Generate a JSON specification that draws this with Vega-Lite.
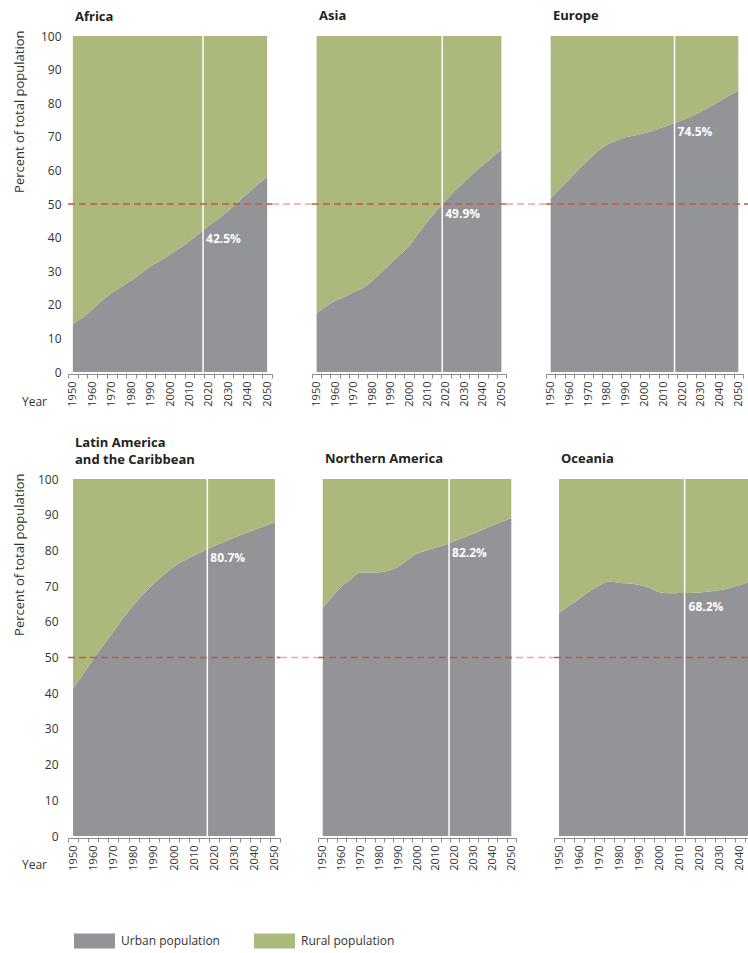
{
  "$schema": "https://vega.github.io/schema/vega-lite/v6.json",
  "padding": {"left": 13, "top": 10, "right": 0, "bottom": 0},
  "background": "white",
  "datasets": {
    "urban": [
      {"region": "Africa", "year": 1950, "urban": 14.3}, {"region": "Africa", "year": 1955, "urban": 16.2}, {"region": "Africa", "year": 1960, "urban": 18.6}, {"region": "Africa", "year": 1965, "urban": 21.2}, {"region": "Africa", "year": 1970, "urban": 23.6}, {"region": "Africa", "year": 1975, "urban": 25.4}, {"region": "Africa", "year": 1980, "urban": 27.2}, {"region": "Africa", "year": 1985, "urban": 29.3}, {"region": "Africa", "year": 1990, "urban": 31.5}, {"region": "Africa", "year": 1995, "urban": 33.1}, {"region": "Africa", "year": 2000, "urban": 35.0}, {"region": "Africa", "year": 2005, "urban": 36.8}, {"region": "Africa", "year": 2010, "urban": 38.9}, {"region": "Africa", "year": 2015, "urban": 41.2}, {"region": "Africa", "year": 2020, "urban": 43.5}, {"region": "Africa", "year": 2025, "urban": 45.7}, {"region": "Africa", "year": 2030, "urban": 48.0}, {"region": "Africa", "year": 2035, "urban": 50.6}, {"region": "Africa", "year": 2040, "urban": 53.2}, {"region": "Africa", "year": 2045, "urban": 55.7}, {"region": "Africa", "year": 2050, "urban": 58.0},
      {"region": "Asia", "year": 1950, "urban": 17.5}, {"region": "Asia", "year": 1955, "urban": 19.5}, {"region": "Asia", "year": 1960, "urban": 21.2}, {"region": "Asia", "year": 1965, "urban": 22.3}, {"region": "Asia", "year": 1970, "urban": 23.7}, {"region": "Asia", "year": 1975, "urban": 25.0}, {"region": "Asia", "year": 1980, "urban": 27.1}, {"region": "Asia", "year": 1985, "urban": 29.6}, {"region": "Asia", "year": 1990, "urban": 32.3}, {"region": "Asia", "year": 1995, "urban": 34.8}, {"region": "Asia", "year": 2000, "urban": 37.5}, {"region": "Asia", "year": 2005, "urban": 41.2}, {"region": "Asia", "year": 2010, "urban": 44.8}, {"region": "Asia", "year": 2015, "urban": 48.0}, {"region": "Asia", "year": 2020, "urban": 51.1}, {"region": "Asia", "year": 2025, "urban": 54.0}, {"region": "Asia", "year": 2030, "urban": 56.7}, {"region": "Asia", "year": 2035, "urban": 59.2}, {"region": "Asia", "year": 2040, "urban": 61.5}, {"region": "Asia", "year": 2045, "urban": 63.9}, {"region": "Asia", "year": 2050, "urban": 66.2},
      {"region": "Europe", "year": 1950, "urban": 51.7}, {"region": "Europe", "year": 1955, "urban": 54.6}, {"region": "Europe", "year": 1960, "urban": 57.4}, {"region": "Europe", "year": 1965, "urban": 60.4}, {"region": "Europe", "year": 1970, "urban": 63.1}, {"region": "Europe", "year": 1975, "urban": 65.6}, {"region": "Europe", "year": 1980, "urban": 67.6}, {"region": "Europe", "year": 1985, "urban": 68.9}, {"region": "Europe", "year": 1990, "urban": 69.9}, {"region": "Europe", "year": 1995, "urban": 70.4}, {"region": "Europe", "year": 2000, "urban": 71.1}, {"region": "Europe", "year": 2005, "urban": 71.9}, {"region": "Europe", "year": 2010, "urban": 72.9}, {"region": "Europe", "year": 2015, "urban": 73.9}, {"region": "Europe", "year": 2020, "urban": 74.9}, {"region": "Europe", "year": 2025, "urban": 76.1}, {"region": "Europe", "year": 2030, "urban": 77.5}, {"region": "Europe", "year": 2035, "urban": 79.0}, {"region": "Europe", "year": 2040, "urban": 80.6}, {"region": "Europe", "year": 2045, "urban": 82.2}, {"region": "Europe", "year": 2050, "urban": 83.7},
      {"region": "LAC", "year": 1950, "urban": 41.3}, {"region": "LAC", "year": 1955, "urban": 45.3}, {"region": "LAC", "year": 1960, "urban": 49.5}, {"region": "LAC", "year": 1965, "urban": 53.4}, {"region": "LAC", "year": 1970, "urban": 57.3}, {"region": "LAC", "year": 1975, "urban": 61.1}, {"region": "LAC", "year": 1980, "urban": 64.7}, {"region": "LAC", "year": 1985, "urban": 67.9}, {"region": "LAC", "year": 1990, "urban": 70.7}, {"region": "LAC", "year": 1995, "urban": 73.2}, {"region": "LAC", "year": 2000, "urban": 75.5}, {"region": "LAC", "year": 2005, "urban": 77.1}, {"region": "LAC", "year": 2010, "urban": 78.6}, {"region": "LAC", "year": 2015, "urban": 79.9}, {"region": "LAC", "year": 2020, "urban": 81.2}, {"region": "LAC", "year": 2025, "urban": 82.4}, {"region": "LAC", "year": 2030, "urban": 83.6}, {"region": "LAC", "year": 2035, "urban": 84.7}, {"region": "LAC", "year": 2040, "urban": 85.8}, {"region": "LAC", "year": 2045, "urban": 86.8}, {"region": "LAC", "year": 2050, "urban": 87.8},
      {"region": "NA", "year": 1950, "urban": 63.9}, {"region": "NA", "year": 1955, "urban": 67.0}, {"region": "NA", "year": 1960, "urban": 69.9}, {"region": "NA", "year": 1965, "urban": 71.9}, {"region": "NA", "year": 1970, "urban": 73.8}, {"region": "NA", "year": 1975, "urban": 73.8}, {"region": "NA", "year": 1980, "urban": 73.9}, {"region": "NA", "year": 1985, "urban": 74.4}, {"region": "NA", "year": 1990, "urban": 75.4}, {"region": "NA", "year": 1995, "urban": 77.3}, {"region": "NA", "year": 2000, "urban": 79.1}, {"region": "NA", "year": 2005, "urban": 80.0}, {"region": "NA", "year": 2010, "urban": 80.8}, {"region": "NA", "year": 2015, "urban": 81.6}, {"region": "NA", "year": 2020, "urban": 82.6}, {"region": "NA", "year": 2025, "urban": 83.6}, {"region": "NA", "year": 2030, "urban": 84.7}, {"region": "NA", "year": 2035, "urban": 85.8}, {"region": "NA", "year": 2040, "urban": 87.0}, {"region": "NA", "year": 2045, "urban": 88.0}, {"region": "NA", "year": 2050, "urban": 89.0},
      {"region": "Oceania", "year": 1950, "urban": 62.5}, {"region": "Oceania", "year": 1955, "urban": 64.5}, {"region": "Oceania", "year": 1960, "urban": 66.4}, {"region": "Oceania", "year": 1965, "urban": 68.5}, {"region": "Oceania", "year": 1970, "urban": 70.2}, {"region": "Oceania", "year": 1975, "urban": 71.3}, {"region": "Oceania", "year": 1980, "urban": 70.9}, {"region": "Oceania", "year": 1985, "urban": 70.7}, {"region": "Oceania", "year": 1990, "urban": 70.3}, {"region": "Oceania", "year": 1995, "urban": 69.5}, {"region": "Oceania", "year": 2000, "urban": 68.3}, {"region": "Oceania", "year": 2005, "urban": 68.0}, {"region": "Oceania", "year": 2010, "urban": 68.1}, {"region": "Oceania", "year": 2015, "urban": 68.1}, {"region": "Oceania", "year": 2020, "urban": 68.2}, {"region": "Oceania", "year": 2025, "urban": 68.5}, {"region": "Oceania", "year": 2030, "urban": 68.9}, {"region": "Oceania", "year": 2035, "urban": 69.5}, {"region": "Oceania", "year": 2040, "urban": 70.3}, {"region": "Oceania", "year": 2045, "urban": 71.3}, {"region": "Oceania", "year": 2050, "urban": 72.5}
    ],
    "marker": [
      {"region": "Africa", "year": 2017, "urban": 42.5, "label": "42.5%"},
      {"region": "Asia", "year": 2018, "urban": 49.9, "label": "49.9%"},
      {"region": "Europe", "year": 2016, "urban": 74.5, "label": "74.5%"},
      {"region": "LAC", "year": 2016.5, "urban": 80.7, "label": "80.7%"},
      {"region": "NA", "year": 2017, "urban": 82.2, "label": "82.2%"},
      {"region": "Oceania", "year": 2012.5, "urban": 68.2, "label": "68.2%"}
    ],
    "refline": [
      {"region": "Africa", "year": 1947.5, "year2": 2052.5, "urban": 50, "part": "in"}, {"region": "Africa", "year": 2052.5, "year2": 2073, "urban": 50, "part": "gap"},
      {"region": "Asia", "year": 1947.5, "year2": 2052.5, "urban": 50, "part": "in"}, {"region": "Asia", "year": 2052.5, "year2": 2074, "urban": 50, "part": "gap"},
      {"region": "Europe", "year": 1947.5, "year2": 2060, "urban": 50, "part": "in"},
      {"region": "LAC", "year": 1947.5, "year2": 2052.5, "urban": 50, "part": "in"}, {"region": "LAC", "year": 2052.5, "year2": 2071, "urban": 50, "part": "gap"},
      {"region": "NA", "year": 1947.5, "year2": 2052.5, "urban": 50, "part": "in"}, {"region": "NA", "year": 2052.5, "year2": 2072.5, "urban": 50, "part": "gap"},
      {"region": "Oceania", "year": 1947.5, "year2": 2060, "urban": 50, "part": "in"}
    ]
  },
  "vconcat": [
    {
      "hconcat": [
        {
          "width": 204, "height": 336,
          "title": {"text": "Africa", "offset": 6},
          "encoding": {
            "x": {"field": "year", "type": "quantitative", "scale": {"domain": [1947.5, 2052.5], "nice": false, "zero": false},
              "axis": {"values": [1947.5,1950,1952.5,1955,1957.5,1960,1962.5,1965,1967.5,1970,1972.5,1975,1977.5,1980,1982.5,1985,1987.5,1990,1992.5,1995,1997.5,2000,2002.5,2005,2007.5,2010,2012.5,2015,2017.5,2020,2022.5,2025,2027.5,2030,2032.5,2035,2037.5,2040,2042.5,2045,2047.5,2050,2052.5],
                "format": "d", "labelExpr": "datum.value % 10 == 0 ? datum.label : ''", "labelAngle": -90, "labelFontSize": 11, "labelPadding": 3, "labelOverlap": false, "labelFlush": false, "labelBound": false,
                "tickSize": 4, "tickColor": "#8c8c8c", "tickOpacity": {"condition": {"test": "(datum.value - 1947.5) % 5 == 0", "value": 1}, "value": 0},
                "domainColor": "#8c8c8c", "offset": 2, "grid": false,
                "title": "Year", "titleFontSize": 12, "titleFontWeight": "normal", "titleAlign": "center", "titleBaseline": "middle", "titleX": -34, "titleY": 27}},
            "y": {"field": "urban", "type": "quantitative", "scale": {"domain": [0, 100], "nice": false},
              "axis": {"values": [0,10,20,30,40,50,60,70,80,90,100], "ticks": false, "domain": false, "grid": false, "labelFontSize": 12, "labelPadding": 7,
                "title": "Percent of total population", "titleFontSize": 13, "titleFontWeight": "normal", "titleAnchor": "end", "titleY": -6, "titlePadding": 14}}
          },
          "layer": [
            {"data": {"name": "urban"}, "transform": [{"filter": "datum.region == 'Africa'"}], "mark": {"type": "area", "interpolate": "monotone"},
              "encoding": {"color": {"datum": "Urban population", "type": "nominal", "scale": {"domain": ["Urban population", "Rural population"], "range": ["#939498", "#acb97c"]},
                "legend": {"orient": "bottom", "direction": "horizontal", "title": null, "padding": 6, "symbolType": "M-1,-0.366H1V0.366H-1Z", "symbolSize": 1681, "symbolStrokeWidth": 0, "labelFontSize": 12, "labelColor": "#333", "labelOffset": 6, "columnPadding": 34, "offset": 43}}}},
            {"data": {"name": "urban"}, "transform": [{"filter": "datum.region == 'Africa'"}], "mark": {"type": "area", "interpolate": "monotone"},
              "encoding": {"y2": {"datum": 100}, "color": {"datum": "Rural population", "type": "nominal"}}},
            {"data": {"name": "marker"}, "transform": [{"filter": "datum.region == 'Africa'"}], "mark": {"type": "rule", "color": "white", "strokeWidth": 1.5},
              "encoding": {"y": null}},
            {"data": {"name": "refline"}, "transform": [{"filter": "datum.region == 'Africa'"}], "mark": {"type": "rule", "strokeDash": [7, 4], "strokeWidth": 1.3, "clip": false},
              "encoding": {"x2": {"field": "year2"}, "stroke": {"condition": {"test": "datum.part == 'gap'", "value": "#eaa7a3"}, "value": "#c8553f"}}},
            {"data": {"name": "marker"}, "transform": [{"filter": "datum.region == 'Africa'"}], "mark": {"type": "text", "align": "left", "baseline": "middle", "dx": 3, "dy": 10, "fontWeight": "bold", "fontSize": 12, "color": "white"},
              "encoding": {"text": {"field": "label"}}}
          ]
        },
        {
          "width": 194, "height": 336,
          "title": {"text": "Asia"},
          "encoding": {
            "x": {"field": "year", "type": "quantitative", "scale": {"domain": [1947.5, 2052.5], "nice": false, "zero": false},
              "axis": {"values": [1947.5,1950,1952.5,1955,1957.5,1960,1962.5,1965,1967.5,1970,1972.5,1975,1977.5,1980,1982.5,1985,1987.5,1990,1992.5,1995,1997.5,2000,2002.5,2005,2007.5,2010,2012.5,2015,2017.5,2020,2022.5,2025,2027.5,2030,2032.5,2035,2037.5,2040,2042.5,2045,2047.5,2050,2052.5],
                "format": "d", "labelExpr": "datum.value % 10 == 0 ? datum.label : ''", "labelAngle": -90, "labelFontSize": 11, "labelPadding": 3, "labelOverlap": false, "labelFlush": false, "labelBound": false,
                "tickSize": 4, "tickColor": "#8c8c8c", "tickOpacity": {"condition": {"test": "(datum.value - 1947.5) % 5 == 0", "value": 1}, "value": 0},
                "domainColor": "#8c8c8c", "offset": 2, "grid": false, "title": null}},
            "y": {"field": "urban", "type": "quantitative", "scale": {"domain": [0, 100], "nice": false}, "axis": null}
          },
          "layer": [
            {"data": {"name": "urban"}, "transform": [{"filter": "datum.region == 'Asia'"}], "mark": {"type": "area", "interpolate": "monotone"},
              "encoding": {"color": {"datum": "Urban population", "type": "nominal"}}},
            {"data": {"name": "urban"}, "transform": [{"filter": "datum.region == 'Asia'"}], "mark": {"type": "area", "interpolate": "monotone"},
              "encoding": {"y2": {"datum": 100}, "color": {"datum": "Rural population", "type": "nominal"}}},
            {"data": {"name": "marker"}, "transform": [{"filter": "datum.region == 'Asia'"}], "mark": {"type": "rule", "color": "white", "strokeWidth": 1.5},
              "encoding": {"y": null}},
            {"data": {"name": "refline"}, "transform": [{"filter": "datum.region == 'Asia'"}], "mark": {"type": "rule", "strokeDash": [7, 4], "strokeWidth": 1.3, "clip": false},
              "encoding": {"x2": {"field": "year2"}, "stroke": {"condition": {"test": "datum.part == 'gap'", "value": "#eaa7a3"}, "value": "#c8553f"}}},
            {"data": {"name": "marker"}, "transform": [{"filter": "datum.region == 'Asia'"}], "mark": {"type": "text", "align": "left", "baseline": "middle", "dx": 3, "dy": 10, "fontWeight": "bold", "fontSize": 12, "color": "white"},
              "encoding": {"text": {"field": "label"}}}
          ]
        },
        {
          "width": 197, "height": 336,
          "title": {"text": "Europe"},
          "encoding": {
            "x": {"field": "year", "type": "quantitative", "scale": {"domain": [1947.5, 2052.5], "nice": false, "zero": false},
              "axis": {"values": [1947.5,1950,1952.5,1955,1957.5,1960,1962.5,1965,1967.5,1970,1972.5,1975,1977.5,1980,1982.5,1985,1987.5,1990,1992.5,1995,1997.5,2000,2002.5,2005,2007.5,2010,2012.5,2015,2017.5,2020,2022.5,2025,2027.5,2030,2032.5,2035,2037.5,2040,2042.5,2045,2047.5,2050,2052.5],
                "format": "d", "labelExpr": "datum.value % 10 == 0 ? datum.label : ''", "labelAngle": -90, "labelFontSize": 11, "labelPadding": 3, "labelOverlap": false, "labelFlush": false, "labelBound": false,
                "tickSize": 4, "tickColor": "#8c8c8c", "tickOpacity": {"condition": {"test": "(datum.value - 1947.5) % 5 == 0", "value": 1}, "value": 0},
                "domainColor": "#8c8c8c", "offset": 2, "grid": false, "title": null}},
            "y": {"field": "urban", "type": "quantitative", "scale": {"domain": [0, 100], "nice": false}, "axis": null}
          },
          "layer": [
            {"data": {"name": "urban"}, "transform": [{"filter": "datum.region == 'Europe'"}], "mark": {"type": "area", "interpolate": "monotone"},
              "encoding": {"color": {"datum": "Urban population", "type": "nominal"}}},
            {"data": {"name": "urban"}, "transform": [{"filter": "datum.region == 'Europe'"}], "mark": {"type": "area", "interpolate": "monotone"},
              "encoding": {"y2": {"datum": 100}, "color": {"datum": "Rural population", "type": "nominal"}}},
            {"data": {"name": "marker"}, "transform": [{"filter": "datum.region == 'Europe'"}], "mark": {"type": "rule", "color": "white", "strokeWidth": 1.5},
              "encoding": {"y": null}},
            {"data": {"name": "refline"}, "transform": [{"filter": "datum.region == 'Europe'"}], "mark": {"type": "rule", "strokeDash": [7, 4], "strokeWidth": 1.3, "clip": false},
              "encoding": {"x2": {"field": "year2"}, "stroke": {"condition": {"test": "datum.part == 'gap'", "value": "#eaa7a3"}, "value": "#c8553f"}}},
            {"data": {"name": "marker"}, "transform": [{"filter": "datum.region == 'Europe'"}], "mark": {"type": "text", "align": "left", "baseline": "middle", "dx": 3, "dy": 10, "fontWeight": "bold", "fontSize": 12, "color": "white"},
              "encoding": {"text": {"field": "label"}}}
          ]
        }
      ],
      "bounds": "flush",
      "spacing": 40
    },
    {
      "hconcat": [
        {
          "width": 212, "height": 357,
          "title": {"text": ["Latin America", "and the Caribbean"], "offset": 6},
          "encoding": {
            "x": {"field": "year", "type": "quantitative", "scale": {"domain": [1947.5, 2052.5], "nice": false, "zero": false},
              "axis": {"values": [1947.5,1950,1952.5,1955,1957.5,1960,1962.5,1965,1967.5,1970,1972.5,1975,1977.5,1980,1982.5,1985,1987.5,1990,1992.5,1995,1997.5,2000,2002.5,2005,2007.5,2010,2012.5,2015,2017.5,2020,2022.5,2025,2027.5,2030,2032.5,2035,2037.5,2040,2042.5,2045,2047.5,2050,2052.5],
                "format": "d", "labelExpr": "datum.value % 10 == 0 ? datum.label : ''", "labelAngle": -90, "labelFontSize": 11, "labelPadding": 3, "labelOverlap": false, "labelFlush": false, "labelBound": false,
                "tickSize": 4, "tickColor": "#8c8c8c", "tickOpacity": {"condition": {"test": "(datum.value - 1947.5) % 5 == 0", "value": 1}, "value": 0},
                "domainColor": "#8c8c8c", "offset": 2, "grid": false,
                "title": "Year", "titleFontSize": 12, "titleFontWeight": "normal", "titleAlign": "center", "titleBaseline": "middle", "titleX": -34, "titleY": 26}},
            "y": {"field": "urban", "type": "quantitative", "scale": {"domain": [0, 100], "nice": false},
              "axis": {"values": [0,10,20,30,40,50,60,70,80,90,100], "ticks": false, "domain": false, "grid": false, "labelFontSize": 12, "labelPadding": 10,
                "title": "Percent of total population", "titleFontSize": 13, "titleFontWeight": "normal", "titleAnchor": "end", "titleY": -6, "titlePadding": 11}}
          },
          "layer": [
            {"data": {"name": "urban"}, "transform": [{"filter": "datum.region == 'LAC'"}], "mark": {"type": "area", "interpolate": "monotone"},
              "encoding": {"color": {"datum": "Urban population", "type": "nominal"}}},
            {"data": {"name": "urban"}, "transform": [{"filter": "datum.region == 'LAC'"}], "mark": {"type": "area", "interpolate": "monotone"},
              "encoding": {"y2": {"datum": 100}, "color": {"datum": "Rural population", "type": "nominal"}}},
            {"data": {"name": "marker"}, "transform": [{"filter": "datum.region == 'LAC'"}], "mark": {"type": "rule", "color": "white", "strokeWidth": 1.5},
              "encoding": {"y": null}},
            {"data": {"name": "refline"}, "transform": [{"filter": "datum.region == 'LAC'"}], "mark": {"type": "rule", "strokeDash": [7, 4], "strokeWidth": 1.3, "clip": false},
              "encoding": {"x2": {"field": "year2"}, "stroke": {"condition": {"test": "datum.part == 'gap'", "value": "#eaa7a3"}, "value": "#c8553f"}}},
            {"data": {"name": "marker"}, "transform": [{"filter": "datum.region == 'LAC'"}], "mark": {"type": "text", "align": "left", "baseline": "middle", "dx": 3, "dy": 10, "fontWeight": "bold", "fontSize": 12, "color": "white"},
              "encoding": {"text": {"field": "label"}}}
          ]
        },
        {
          "width": 198, "height": 357,
          "title": {"text": "Northern America"},
          "encoding": {
            "x": {"field": "year", "type": "quantitative", "scale": {"domain": [1947.5, 2052.5], "nice": false, "zero": false},
              "axis": {"values": [1947.5,1950,1952.5,1955,1957.5,1960,1962.5,1965,1967.5,1970,1972.5,1975,1977.5,1980,1982.5,1985,1987.5,1990,1992.5,1995,1997.5,2000,2002.5,2005,2007.5,2010,2012.5,2015,2017.5,2020,2022.5,2025,2027.5,2030,2032.5,2035,2037.5,2040,2042.5,2045,2047.5,2050,2052.5],
                "format": "d", "labelExpr": "datum.value % 10 == 0 ? datum.label : ''", "labelAngle": -90, "labelFontSize": 11, "labelPadding": 3, "labelOverlap": false, "labelFlush": false, "labelBound": false,
                "tickSize": 4, "tickColor": "#8c8c8c", "tickOpacity": {"condition": {"test": "(datum.value - 1947.5) % 5 == 0", "value": 1}, "value": 0},
                "domainColor": "#8c8c8c", "offset": 2, "grid": false, "title": null}},
            "y": {"field": "urban", "type": "quantitative", "scale": {"domain": [0, 100], "nice": false}, "axis": null}
          },
          "layer": [
            {"data": {"name": "urban"}, "transform": [{"filter": "datum.region == 'NA'"}], "mark": {"type": "area", "interpolate": "monotone"},
              "encoding": {"color": {"datum": "Urban population", "type": "nominal"}}},
            {"data": {"name": "urban"}, "transform": [{"filter": "datum.region == 'NA'"}], "mark": {"type": "area", "interpolate": "monotone"},
              "encoding": {"y2": {"datum": 100}, "color": {"datum": "Rural population", "type": "nominal"}}},
            {"data": {"name": "marker"}, "transform": [{"filter": "datum.region == 'NA'"}], "mark": {"type": "rule", "color": "white", "strokeWidth": 1.5},
              "encoding": {"y": null}},
            {"data": {"name": "refline"}, "transform": [{"filter": "datum.region == 'NA'"}], "mark": {"type": "rule", "strokeDash": [7, 4], "strokeWidth": 1.3, "clip": false},
              "encoding": {"x2": {"field": "year2"}, "stroke": {"condition": {"test": "datum.part == 'gap'", "value": "#eaa7a3"}, "value": "#c8553f"}}},
            {"data": {"name": "marker"}, "transform": [{"filter": "datum.region == 'NA'"}], "mark": {"type": "text", "align": "left", "baseline": "middle", "dx": 3, "dy": 10, "fontWeight": "bold", "fontSize": 12, "color": "white"},
              "encoding": {"text": {"field": "label"}}}
          ]
        },
        {
          "width": 211, "height": 357,
          "title": {"text": "Oceania"},
          "encoding": {
            "x": {"field": "year", "type": "quantitative", "scale": {"domain": [1947.5, 2052.5], "nice": false, "zero": false},
              "axis": {"values": [1947.5,1950,1952.5,1955,1957.5,1960,1962.5,1965,1967.5,1970,1972.5,1975,1977.5,1980,1982.5,1985,1987.5,1990,1992.5,1995,1997.5,2000,2002.5,2005,2007.5,2010,2012.5,2015,2017.5,2020,2022.5,2025,2027.5,2030,2032.5,2035,2037.5,2040,2042.5,2045,2047.5,2050,2052.5],
                "format": "d", "labelExpr": "datum.value % 10 == 0 ? datum.label : ''", "labelAngle": -90, "labelFontSize": 11, "labelPadding": 3, "labelOverlap": false, "labelFlush": false, "labelBound": false,
                "tickSize": 4, "tickColor": "#8c8c8c", "tickOpacity": {"condition": {"test": "(datum.value - 1947.5) % 5 == 0", "value": 1}, "value": 0},
                "domainColor": "#8c8c8c", "offset": 2, "grid": false, "title": null}},
            "y": {"field": "urban", "type": "quantitative", "scale": {"domain": [0, 100], "nice": false}, "axis": null}
          },
          "layer": [
            {"data": {"name": "urban"}, "transform": [{"filter": "datum.region == 'Oceania'"}], "mark": {"type": "area", "interpolate": "monotone"},
              "encoding": {"color": {"datum": "Urban population", "type": "nominal"}}},
            {"data": {"name": "urban"}, "transform": [{"filter": "datum.region == 'Oceania'"}], "mark": {"type": "area", "interpolate": "monotone"},
              "encoding": {"y2": {"datum": 100}, "color": {"datum": "Rural population", "type": "nominal"}}},
            {"data": {"name": "marker"}, "transform": [{"filter": "datum.region == 'Oceania'"}], "mark": {"type": "rule", "color": "white", "strokeWidth": 1.5},
              "encoding": {"y": null}},
            {"data": {"name": "refline"}, "transform": [{"filter": "datum.region == 'Oceania'"}], "mark": {"type": "rule", "strokeDash": [7, 4], "strokeWidth": 1.3, "clip": false},
              "encoding": {"x2": {"field": "year2"}, "stroke": {"condition": {"test": "datum.part == 'gap'", "value": "#eaa7a3"}, "value": "#c8553f"}}},
            {"data": {"name": "marker"}, "transform": [{"filter": "datum.region == 'Oceania'"}], "mark": {"type": "text", "align": "left", "baseline": "middle", "dx": 4, "dy": 14, "fontWeight": "bold", "fontSize": 12, "color": "white"},
              "encoding": {"text": {"field": "label"}}}
          ]
        }
      ],
      "bounds": "flush",
      "spacing": 38
    }
  ],
  "spacing": 30,
  "config": {
    "font": "Open Sans",
    "view": {"stroke": null},
    "axis": {"labelColor": "#333", "titleColor": "#333", "labelFont": "Open Sans", "titleFont": "Open Sans"},
    "title": {"anchor": "start", "frame": "group", "fontSize": 13, "fontWeight": "bold", "color": "#222", "font": "Open Sans", "baseline": "bottom", "offset": 12, "dx": 7, "lineHeight": 17},
    "legend": {"labelFont": "Open Sans"}
  }
}
